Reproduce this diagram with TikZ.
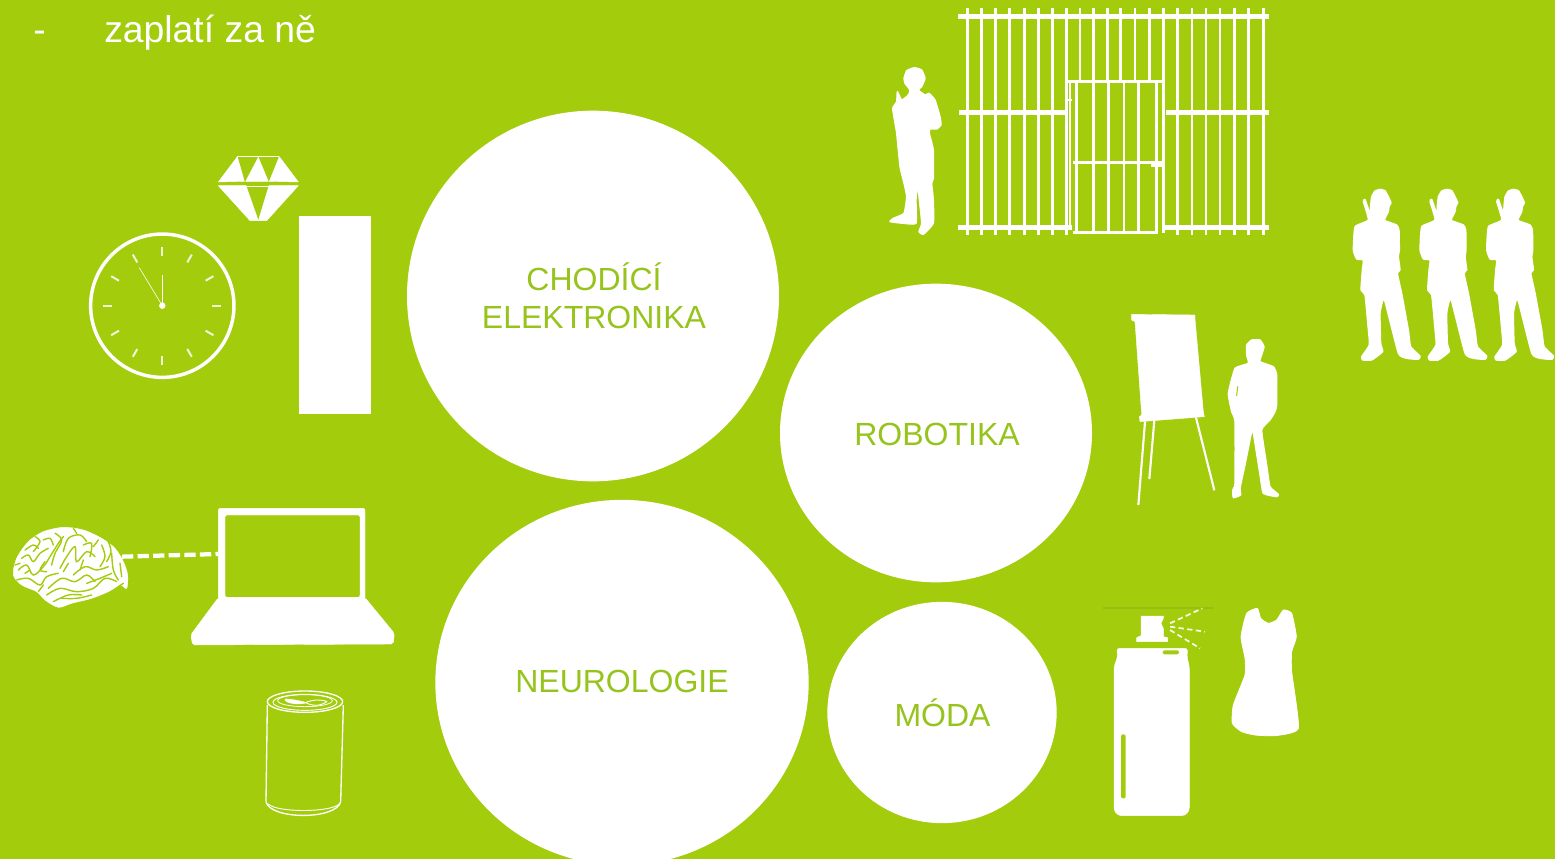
\documentclass[tikz,border=0pt]{standalone}
\usepackage{fontspec}
\setmainfont{Liberation Sans}
\usetikzlibrary{shapes.geometric,calc}
\definecolor{bggreen}{RGB}{163,204,12}
\definecolor{txtgreen}{RGB}{150,196,28}
\definecolor{linegreen}{RGB}{150,190,14}
\tikzset{
  zm/.style 2 args={shift={(#1,#2)},x=0.25pt,y=-0.25pt},
  bubble/.style={ellipse,fill=white,draw=none,inner sep=0pt},
  bubbletext/.style={text=txtgreen,font=\fontsize{24}{28.5}\selectfont,align=center,inner sep=0pt},
  toptext/.style={text=white,font=\fontsize{28}{32}\selectfont,inner sep=0pt,anchor=base west},
  shp/.style={fill=white,draw=white,line width=.3pt,line join=round},
  fat/.style={fill=white,draw=white,line width=1pt,line join=round},
  cut/.style={fill=bggreen,draw=none},
  groove/.style={draw=bggreen,line width=1.05pt,line cap=round,fill=none},
  bar/.style={draw=white,line width=2.2pt},
  rail/.style={draw=white,line width=3.6pt},
  thin/.style={draw=white,line width=1pt},
  tick/.style={draw=white!85!bggreen,line width=1.5pt},
  jet/.style={draw=white!90!bggreen,line width=1.3pt,dash pattern=on 4pt off 2.5pt},
  link/.style={draw=white,line width=3.2pt,dash pattern=on 8.5pt off 3.2pt},
}
\newcommand{\soldier}[2]{%
\begin{scope}[zm={#1}{#2}]
\fill[fat] plot[smooth cycle,tension=.25] coordinates {(92,75)(95,50)(105,33)(120,28)(135,32)(145,50)(153,68)(147,80)(145,95)(135,115)(135,122)(170,135)(177,150)(178,210)(175,230)(180,270)(172,280)(185,340)(205,450)(212,500)(240,528)(235,538)(200,535)(175,520)(135,365)(128,362)(120,400)(122,490)(128,515)(95,540)(68,540)(65,530)(88,495)(85,450)(75,345)(63,330)(67,270)(70,240)(50,237)(40,210)(45,140)(85,120)(70,65)(75,58)(90,100)};
\end{scope}}
\begin{document}
\begin{tikzpicture}[x=0.75pt,y=-0.75pt]
\useasboundingbox (0,0) rectangle (1555,859);
\clip (0,0) rectangle (1555,859);
\fill[bggreen] (0,0) rectangle (1555,859);

% top text
\node[toptext] (dash) at (33,43) {-};
\node[toptext] (pay) at (104,43) {zaplatí za ně};

% bubbles
\node[bubble,minimum width=279pt,minimum height=278pt] (walk) at (593,296) {};
\node[bubble,minimum width=234pt,minimum height=224pt] (robot) at (936,433) {};
\node[bubble,minimum width=280pt,minimum height=274pt] (neuro) at (622,682.5) {};
\node[bubble,minimum width=172pt,minimum height=166pt] (fashion) at (942,712.5) {};
\node[bubbletext] (walkt) at (594,295.3) {CHODÍCÍ\\ELEKTRONIKA};
\node[bubbletext] (robott) at (937,434.5) {ROBOTIKA};
\node[bubbletext] (neurot) at (622,681.5) {NEUROLOGIE};
\node[bubbletext] (fashiont) at (942.5,712.5) {MÓDA};

% tall rectangle
\node[fill=white,minimum width=54pt,minimum height=148.5pt,inner sep=0pt] (slab) at (335,315) {};

% clock
\node[circle,draw=white,line width=2.6pt,minimum size=107.5pt,inner sep=0pt] (clock) at (162.3,305.7) {};
\foreach \a in {0,30,...,330}
  \draw[tick] ($(clock.center)+(\a:50)$) -- ($(clock.center)+(\a:59)$);
\draw[white,line width=.9pt] (clock.center) -- ++(0,-31);
\draw[white,line width=.45pt] (clock.center) -- ++(-23,-38);
\fill[white] (clock.center) circle (3.2);

% diamond
\begin{scope}[zm={70}{140}]
\draw[thin,line width=.7pt] (502,48) -- (628,48);
\fill[shp] (445,126) -- (502,50) -- (523,124) -- cycle;
\fill[shp] (527,124) -- (565,52) -- (595,124) -- cycle;
\fill[shp] (598,124) -- (628,50) -- (685,126) -- cycle;
\fill[shp] (445,137) -- (528,137) -- (565,242) -- (540,242) -- cycle;
\fill[shp] (685,137) -- (597,137) -- (565,242) -- (590,242) -- cycle;
\draw[thin,line width=.4pt] (528,138) -- (597,138);
\end{scope}

% gate with guard
\begin{scope}[zm={880}{0}]
\foreach \x in {263,305,347,389,433,475,517,560,893,936,978,1020,1063,1105,1150}
  \draw[bar] (\x,25) -- (\x,705);
\foreach \x in {600,640,682,722,765,808,851}
  \draw[bar] (\x,25) -- (\x,240);
\draw[bar] (851,240) -- (851,700);
\draw[bar] (570,240) -- (570,680);
\foreach \x in {590,640,685,732,775,830}
  \draw[bar] (\x,245) -- (\x,700);
\draw[rail] (235,50) -- (1168,50);
\draw[rail] (238,338) -- (558,338);
\draw[rail] (858,338) -- (1168,338);
\draw[rail] (235,682) -- (575,682);
\draw[rail] (855,682) -- (1168,682);
\draw[rail,line width=2.6pt] (565,245) -- (848,245);
\draw[rail,line width=2.6pt] (580,487) -- (850,487);
\draw[bar] (580,697) -- (835,697);
\draw[bar] (812,497) -- (850,497);
\draw[bar] (560,300) -- (576,300);
\fill[fat] plot[smooth cycle,tension=.25] coordinates {(72,235)(80,212)(103,203)(125,210)(135,235)(125,260)(115,270)(135,285)(147,280)(165,300)(180,350)(183,375)(170,387)(150,387)(148,400)(160,450)(160,535)(155,550)(160,600)(160,670)(130,703)(117,695)(125,670)(118,600)(113,555)(108,600)(108,670)(70,670)(30,665)(40,655)(72,640)(80,590)(72,550)(60,500)(50,400)(45,370)(38,325)(50,305)(52,275)(65,300)(85,285)(90,270)(75,250)};
\end{scope}

% three figures
\soldier{1340}{180}
\soldier{1406.7}{180}
\soldier{1473.4}{180}

% flip chart and presenter
\begin{scope}[zm={1120}{305}]
\fill[shp] (35,28) -- (225,30) -- (225,42) -- (250,320) -- (253,335) -- (60,350) -- (58,335) -- (65,330) -- (45,50) -- (35,45) -- cycle;
\draw[white,line width=1.6pt] (75,350) -- (55,600);
\draw[white,line width=1.6pt] (103,345) -- (88,522);
\draw[white,line width=1.6pt] (228,338) -- (283,556);
\fill[fat] plot[smooth cycle,tension=.25] coordinates {(380,120)(395,105)(420,105)(432,125)(425,150)(420,170)(460,185)(470,210)(470,300)(465,320)(450,345)(425,375)(440,480)(450,545)(475,568)(470,575)(430,565)(420,510)(400,385)(395,380)(375,480)(360,550)(362,570)(340,578)(338,555)(345,535)(345,350)(335,320)(325,265)(345,190)(385,175)(380,150)};
\draw[groove,line width=.8pt] (353,245) -- (350,272);
\end{scope}

% laptop
\begin{scope}[zm={0}{500}]
\fill[shp,rounded corners=1.5pt,even odd rule] (655,25) -- (1095,25) -- (1095,300) -- (655,300) -- cycle (675,45) -- (1080,45) -- (1080,292) -- (675,292) -- cycle;
\fill[shp,rounded corners=1.5pt] (655,293) -- (1095,293) -- (1183,400) -- (1180,432) -- (578,435) -- (572,405) -- cycle;
\coordinate (screenport) at (655,162);
\end{scope}

% brain
\begin{scope}[zm={5}{520}]
\node[inner sep=0pt,minimum size=0pt] (brain) at (350,110) {};
\fill[shp] plot[smooth cycle,tension=.5] coordinates {(25,165)(35,115)(70,65)(115,35)(175,22)(235,30)(290,55)(330,85)(355,125)(368,165)(365,205)(345,195)(310,215)(260,235)(200,250)(160,262)(120,240)(95,215)(50,195)};
\foreach \p in {
 {(50,115)(70,105)(85,125)(105,100)(130,85)},
 {(40,150)(65,135)(85,165)(115,140)(135,110)(160,70)(175,50)},
 {(35,180)(70,175)(105,195)(125,170)(160,160)},
 {(115,60)(135,55)(145,75)},
 {(175,95)(190,55)(225,45)(245,65)},
 {(165,145)(185,110)(210,80)(215,125)(245,95)(270,110)},
 {(205,165)(240,140)(275,150)(310,140)},
 {(290,75)(300,110)(285,140)},
 {(320,100)(325,150)(340,180)},
 {(345,130)(350,170)},
 {(130,205)(170,175)(210,185)(245,165)(270,185)},
 {(125,225)(165,205)(215,215)(265,205)(300,175)(335,185)},
 {(170,235)(215,235)(260,225)},
 {(265,80)(280,60)},
 {(60,90)(85,75)(100,85)},
 {(150,40)(170,60)(150,100)(140,135)},
 {(235,120)(225,150)},
 {(60,160)(75,150)},
 {(100,215)(115,195)},
 {(175,155)(190,130)},
 {(235,75)(260,70)(255,110)},
 {(310,65)(318,95)(305,125)},
 {(215,40)(205,25)},
 {(90,50)(105,65)(85,95)},
 {(30,135)(45,130)},
 {(120,125)(105,150)(125,155)},
 {(245,190)(285,175)(320,160)},
 {(145,245)(190,225)(230,225)},
 {(355,190)(340,200)}}
  \draw[groove] plot[smooth,tension=.6] coordinates \p;
\end{scope}
\draw[link] (brain) -- (screenport);

% can
\begin{scope}[zm={250}{680}]
\draw[thin] (165,65) ellipse (113 and 32);
\draw[thin,line width=.7pt] (165,67) ellipse (96 and 24);
\draw[thin,line width=.6pt] (165,62) ellipse (82 and 18);
\fill[shp] plot[smooth cycle,tension=.6] coordinates {(105,57)(135,60)(168,68)(140,72)(112,66)};
\draw[thin,line width=.7pt] plot[smooth cycle,tension=.6] coordinates {(168,68)(200,60)(230,65)(200,76)};
\draw[thin] (52,75) -- (48,365);
\draw[thin] (280,75) -- (272,365);
\draw[thin] (48,365) .. controls (60,420) and (260,420) .. (272,365);
\draw[thin,line width=.7pt] (55,372) .. controls (80,398) and (240,398) .. (268,372);
\end{scope}

% spray can
\begin{scope}[zm={1095}{595}]
\draw[linegreen,line width=1.5pt] (25,40) -- (355,40);
\fill[shp] (138,63) -- (205,63) -- (205,70) -- (198,85) -- (205,100) -- (205,125) -- (218,128) -- (218,140) -- (125,140) -- (125,128) -- (138,122) -- cycle;
\fill[shp,rounded corners=2pt] (65,160) -- (278,160) -- (276,185) -- (283,215) [rounded corners=6pt] -- (283,662) -- (57,662) [rounded corners=2pt] -- (57,215) -- (68,185) -- cycle;
\fill[cut,rounded corners=1.2pt] (203,166) rectangle (252,178);
\fill[cut,rounded corners=1.5pt] (78,418) rectangle (92,610);
\draw[jet] (225,85) -- (322,40);
\draw[jet] (225,95) -- (330,110);
\draw[jet] (225,105) -- (315,160);
\fill[fat,line width=.6pt] plot[smooth cycle,tension=.3] coordinates {(455,55)(487,40)(497,70)(520,85)(545,75)(565,45)(590,55)(604,125)(590,170)(590,230)(610,400)(540,422)(480,420)(440,410)(412,385)(415,330)(450,240)(450,190)(438,125)};
\end{scope}
\end{tikzpicture}
\end{document}
